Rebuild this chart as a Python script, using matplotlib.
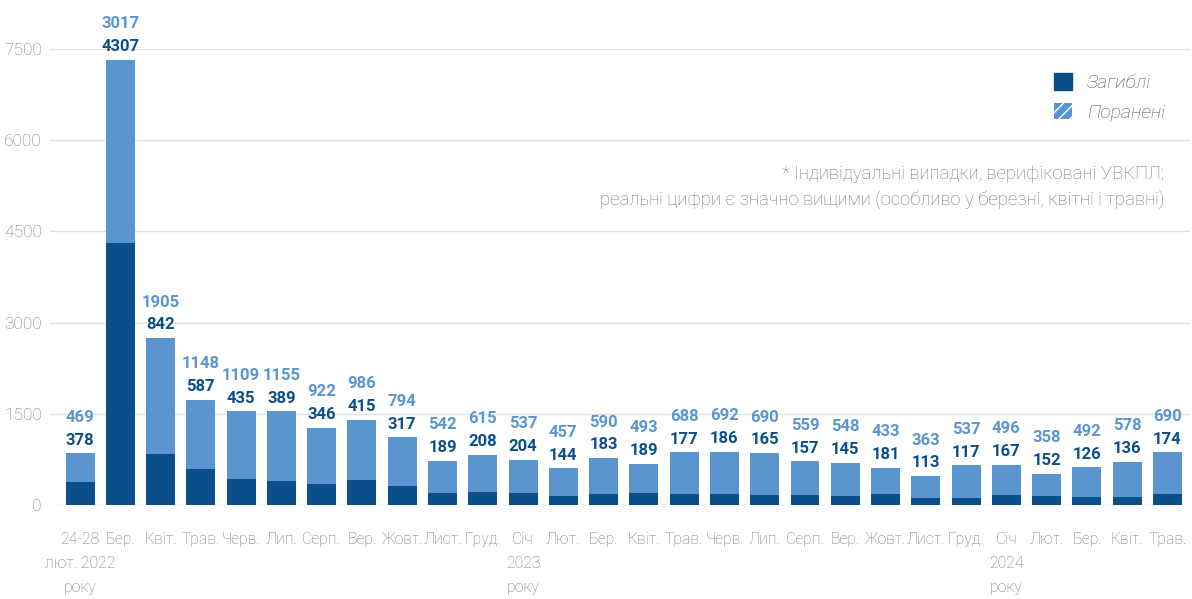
import matplotlib.pyplot as plt
import matplotlib.patches as mpatches
import numpy as np

# data
months = ["24-28\nлют. 2022\nроку", "Бер.", "Квіт.", "Трав.", "Черв.", "Лип.", "Серп.", "Вер.",
          "Жовт.", "Лист.", "Груд.",
          "Січ\n2023\nроку", "Лют.", "Бер.", "Квіт.", "Трав.", "Черв.", "Лип.", "Серп.", "Вер.",
          "Жовт.", "Лист.", "Груд.",
          "Січ\n2024\nроку", "Лют.", "Бер.", "Квіт.", "Трав."]
killed = [378, 4307, 842, 587, 435, 389, 346, 415, 317, 189, 208,
          204, 144, 183, 189, 177, 186, 165, 157, 145, 181, 113, 117,
          167, 152, 126, 136, 174]
injured = [469, 3017, 1905, 1148, 1109, 1155, 922, 986, 794, 542, 615,
           537, 457, 590, 493, 688, 692, 690, 559, 548, 433, 363, 537,
           496, 358, 492, 578, 690]
yticks = [0, 1500, 3000, 4500, 6000, 7500]

dark = "#0b4f8a"
light = "#5b95d0"
grey = "#777777"

plt.rcParams['font.family'] = ['Roboto', 'DejaVu Sans']

fig = plt.figure(figsize=(11.92, 5.99), dpi=100)
ax = fig.add_axes([0.042, 0.157, 0.956, 0.761])

x = np.arange(len(months))
k = np.array(killed)
inj = np.array(injured)
ax.bar(x, k, width=0.72, color=dark, zorder=2)
ax.bar(x, inj, width=0.72, bottom=k, color=light, zorder=2)

# value labels above each bar
for i in range(len(x)):
    top = k[i] + inj[i]
    ax.annotate(str(k[i]), (x[i], top), xytext=(0, 4), textcoords="offset points",
                ha="center", va="bottom", color=dark, fontsize=12, fontweight="bold",
                annotation_clip=False)
    ax.annotate(str(inj[i]), (x[i], top), xytext=(0, 20.5), textcoords="offset points",
                ha="center", va="bottom", color=light, fontsize=12, fontweight="bold",
                annotation_clip=False)

ax.set_ylim(0, 7500)
ax.set_xlim(-0.745, 27.55)
ax.set_yticks(yticks)
ax.set_yticklabels([str(t) for t in yticks], color=grey, fontsize=12.5, fontweight="light")

# month names as tick labels, year lines underneath as separate texts
first_lines = [m.split("\n")[0] for m in months]
ax.set_xticks(x)
ax.set_xticklabels(first_lines, color=grey, fontsize=11.3, fontweight="light")
for i, m in enumerate(months):
    rest = m.split("\n")[1:]
    if rest:
        ax.annotate("\n".join(rest), (x[i], 0), xytext=(0, -37), textcoords="offset points",
                    ha="center", va="top", color=grey, fontsize=11.3, fontweight="light",
                    linespacing=1.7, annotation_clip=False)

ax.tick_params(length=0)
ax.tick_params(axis="x", pad=19.5)
ax.tick_params(axis="y", pad=6)
ax.grid(axis="y", color="#e3e3e3", linewidth=1, zorder=0)
for s in ax.spines.values():
    s.set_visible(False)

# legend
h1 = mpatches.Patch(facecolor=dark, edgecolor=dark)
h2 = mpatches.Patch(facecolor=light, edgecolor="white", hatch="///", linewidth=0)
leg = ax.legend([h1, h2], ["Загиблі", "Поранені"], loc="upper right",
                bbox_to_anchor=(0.994, 0.985), frameon=False, handlelength=0.9,
                handleheight=0.9, handletextpad=0.8, labelspacing=0.55,
                prop={"size": 14, "style": "italic", "weight": "light"})
for t in leg.get_texts():
    t.set_color("#555555")

ax.text(0.978, 0.697, "* Індивідуальні випадки, верифіковані УВКПЛ;\n"
        "реальні цифри є значно вищими (особливо у березні, квітні і травні)",
        transform=ax.transAxes, ha="right", va="center", color=grey,
        fontsize=13.3, fontweight="light", linespacing=1.45)

plt.savefig("out.png", dpi=100)
